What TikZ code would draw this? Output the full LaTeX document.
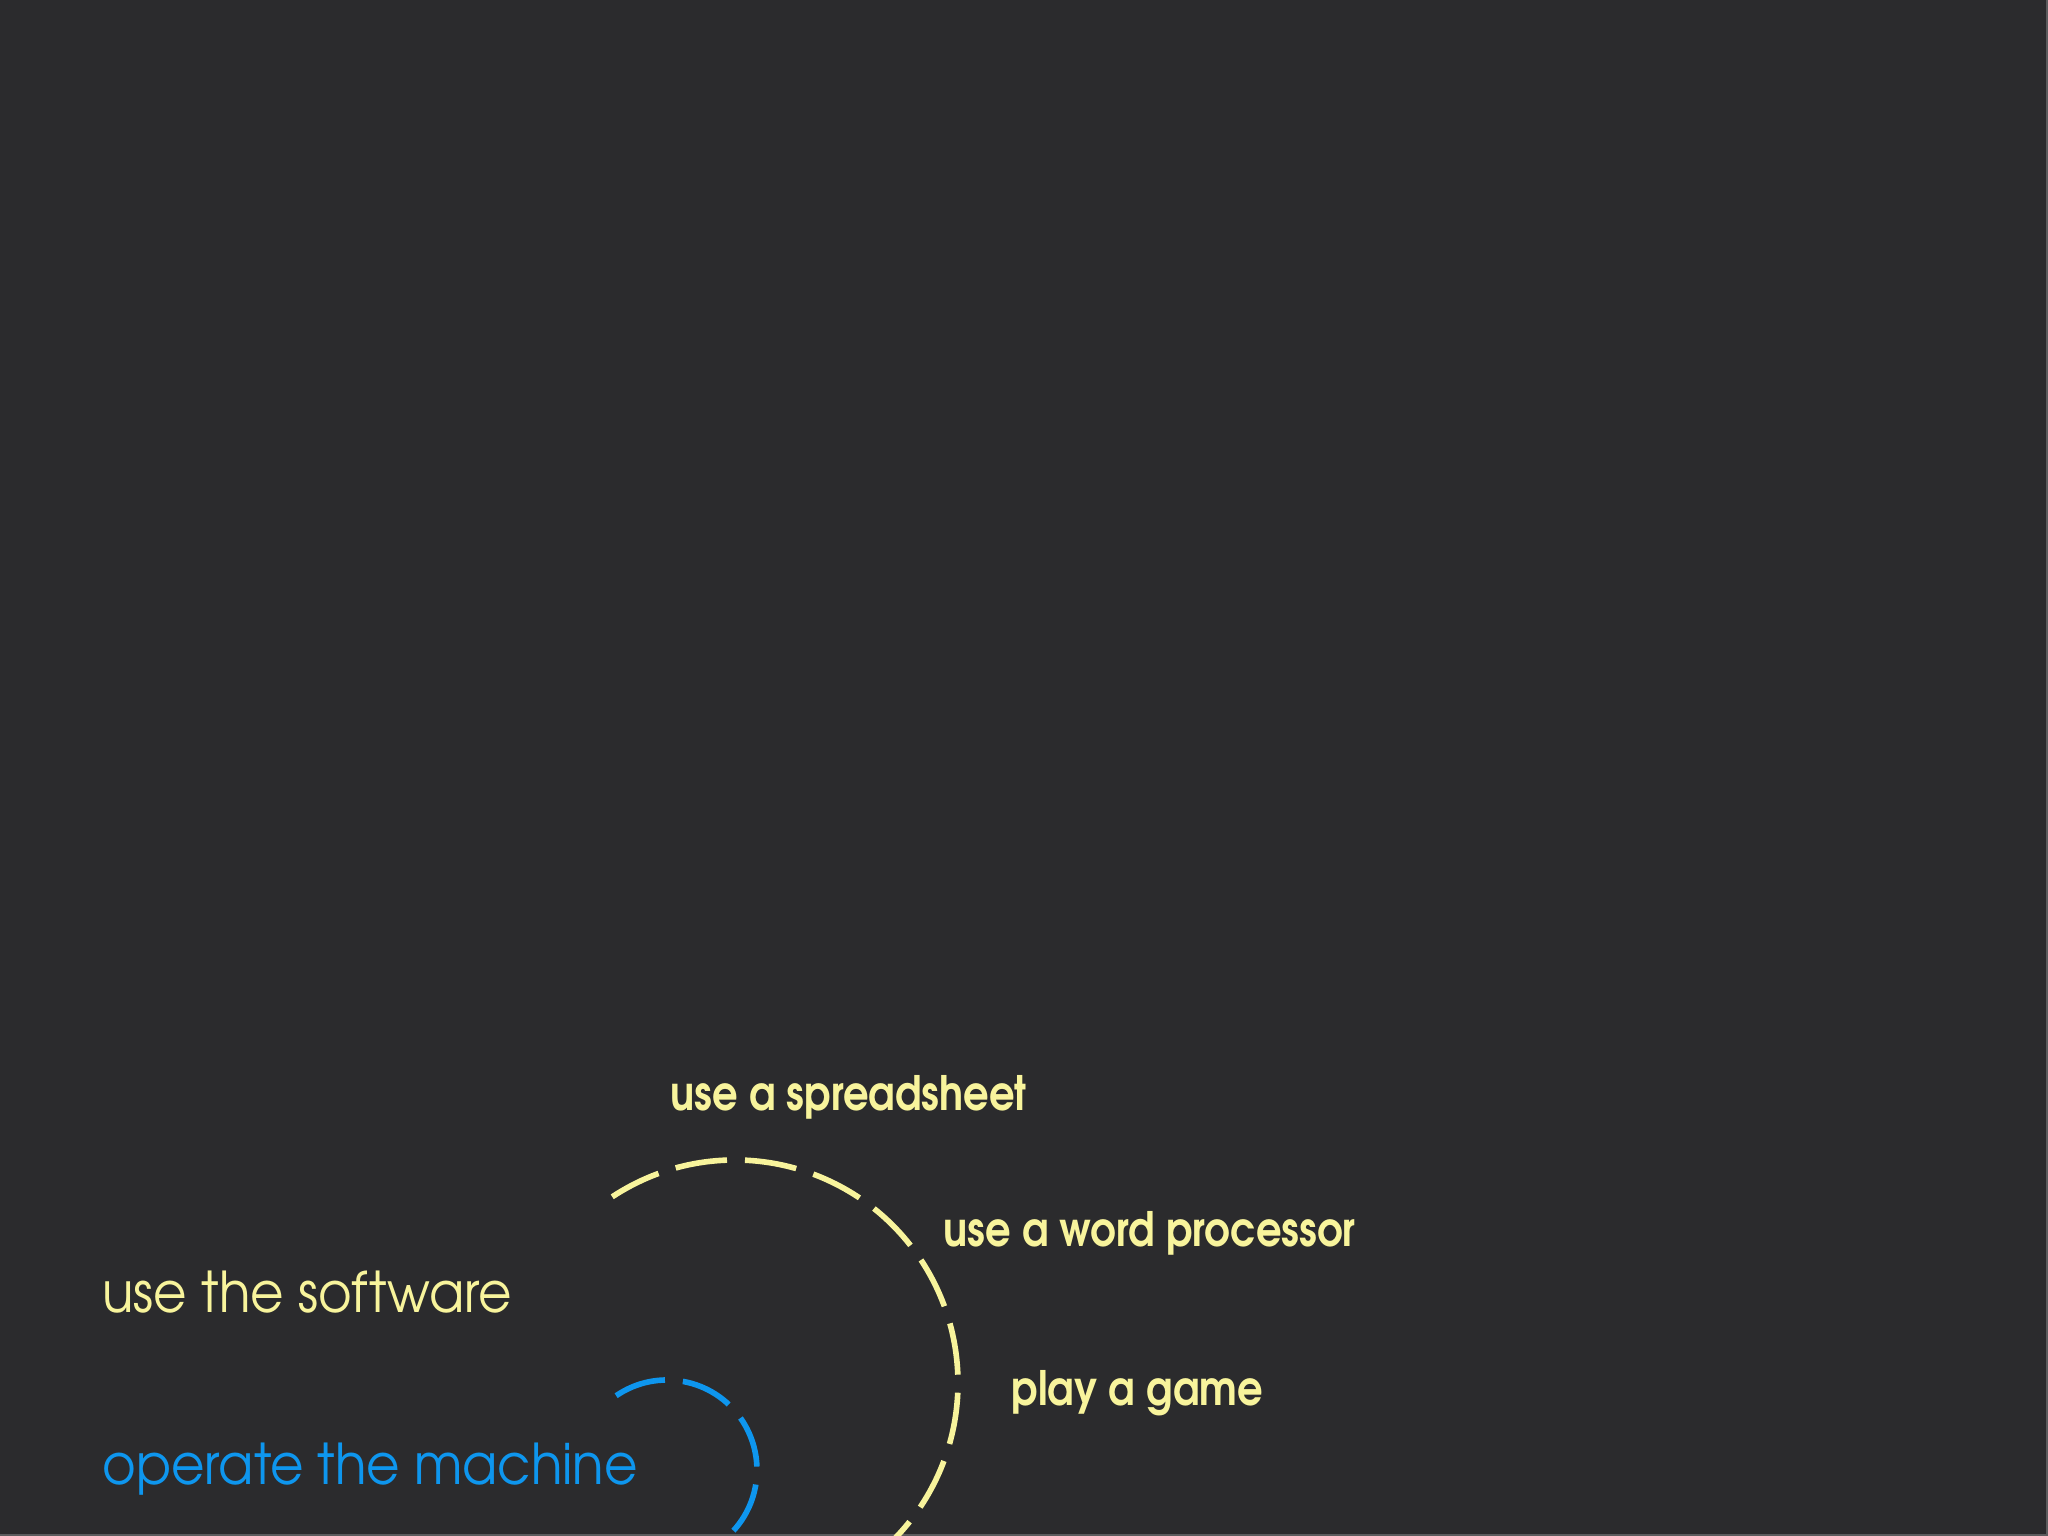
\documentclass[tikz,border=0pt]{standalone}
\usepackage{fontspec}
\setmainfont{texgyreadventor}[Extension=.otf, UprightFont=*-regular, BoldFont=*-bold, FakeStretch=0.915]
\newfontfamily\taskfont{texgyreadventor}[Extension=.otf, UprightFont=*-bold, FakeStretch=0.845]
\definecolor{bgdark}{HTML}{2B2B2D}
\definecolor{edgegrey}{HTML}{5C5C5E}
\definecolor{softyellow}{HTML}{F8F49C}
\definecolor{skyblue}{HTML}{0E96EE}
\tikzset{
    ring/.style={line width=1.6pt, dash pattern=on 0.52cm off 0.18cm},
    plainlabel/.style={anchor=base west, inner sep=0pt, font=\fontsize{16}{18}\selectfont},
    boldlabel/.style={anchor=base west, inner sep=0pt, font=\taskfont\fontsize{13.5}{16}\selectfont, text=softyellow}
}

\begin{document}
\begin{tikzpicture}

    % Canvas
    \def\W{20.48}
    \def\H{15.36}
    \useasboundingbox (0,0) rectangle (\W,\H);
    \fill[bgdark] (-0.2,-0.2) rectangle (\W+0.2,\H+0.2);
    \draw[edgegrey, line width=0.6pt] (0,0.01) -- (\W-0.01,0.01) -- (\W-0.01,\H);
    \clip (0,0) rectangle (\W,\H);

    % Outer ring (software)
    \def\xs{7.35}   % x centre
    \def\ys{1.53}   % y centre
    \def\rs{2.23}   % radius
    \coordinate (softcentre) at (\xs,\ys);
    \draw[ring, softyellow] (softcentre) ++(123.4:\rs) arc[start angle=123.4, end angle=-70, radius=\rs];

    % Inner ring (machine)
    \def\xm{6.67}
    \def\ym{0.66}
    \def\rm{0.90}
    \coordinate (machcentre) at (\xm,\ym);
    \draw[ring, skyblue] (machcentre) ++(124.4:\rm) arc[start angle=124.4, end angle=-70, radius=\rm];

    % Levels
    \node[plainlabel, text=softyellow] (software) at (1.02,2.23) {use the software};
    \node[plainlabel, text=skyblue]    (machine)  at (1.02,0.51) {operate the machine};

    % Tasks
    \node[boldlabel] (sheet) at ( 6.70,4.25) {use a spreadsheet};
    \node[boldlabel] (words) at ( 9.43,2.89) {use a word processor};
    \node[boldlabel] (game)  at (10.11,1.30) {play a game};

\end{tikzpicture}
\end{document}
